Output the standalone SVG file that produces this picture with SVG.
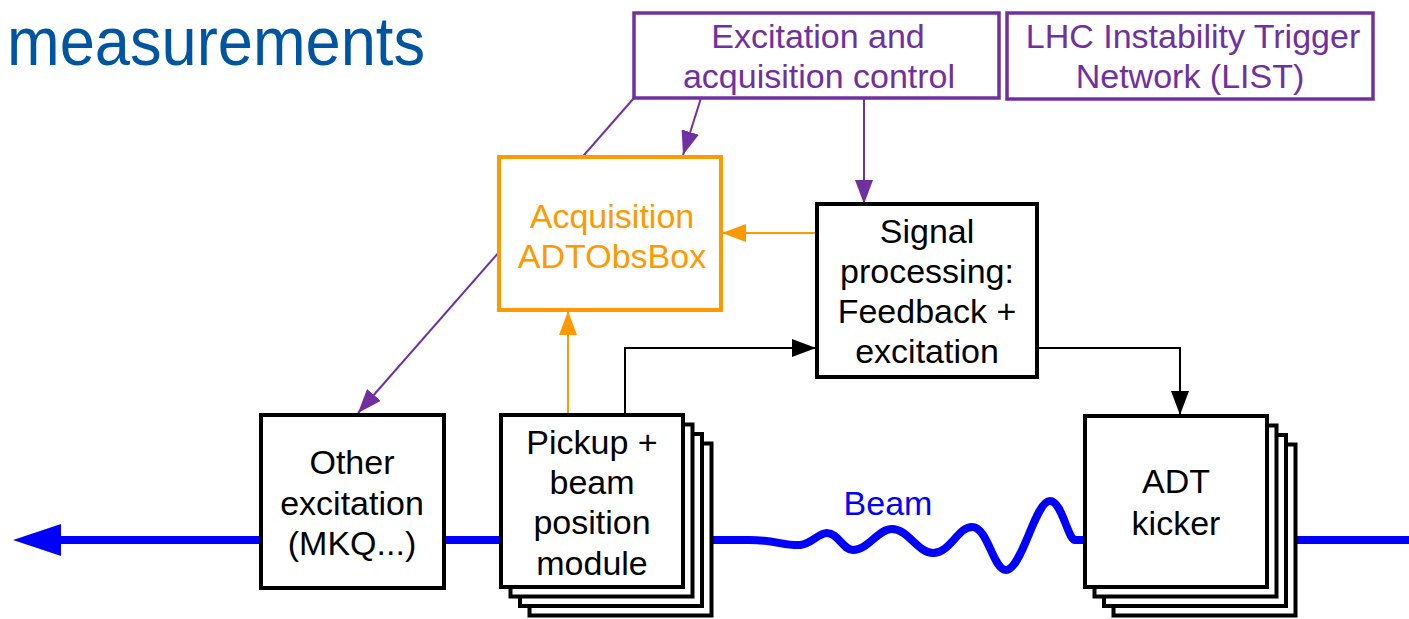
<svg xmlns="http://www.w3.org/2000/svg" width="1409" height="619" viewBox="0 0 1409 619">
  <style>
    .box { fill: #ffffff; stroke: #000000; stroke-width: 4; }
    .pbox { fill: #ffffff; stroke: #7030A0; stroke-width: 3.5; }
    .obox { fill: #ffffff; stroke: #FF9900; stroke-width: 4; }
    text { font-family: "Liberation Sans", Arial, sans-serif; font-size: 34px; text-anchor: middle; }
    .t-black { fill: #000000; }
    .t-purple { fill: #7030A0; }
    .t-orange { fill: #FF9900; }
    .t-blue { fill: #0000FF; }
    .line-p { fill: none; stroke: #7030A0; stroke-width: 2; }
    .line-o { fill: none; stroke: #FF9900; stroke-width: 2; }
    .line-k { fill: none; stroke: #000000; stroke-width: 2; }
    .beam { fill: none; stroke: #0000FF; stroke-width: 8; stroke-linejoin: round; }
  </style>
  <defs>
    <marker id="arr-p" markerUnits="userSpaceOnUse" markerWidth="24" markerHeight="18" refX="24" refY="9" orient="auto">
      <path d="M0,0 L24,9 L0,18 z" fill="#7030A0"/>
    </marker>
    <marker id="arr-o" markerUnits="userSpaceOnUse" markerWidth="24" markerHeight="18" refX="24" refY="9" orient="auto">
      <path d="M0,0 L24,9 L0,18 z" fill="#FF9900"/>
    </marker>
    <marker id="arr-k" markerUnits="userSpaceOnUse" markerWidth="24" markerHeight="18" refX="24" refY="9" orient="auto">
      <path d="M0,0 L24,9 L0,18 z" fill="#000000"/>
    </marker>
  </defs>

  <rect x="0" y="0" width="1409" height="619" fill="#ffffff"/>

  <!-- slide heading fragment -->
  <text x="7" y="65" style="font-size:68px; text-anchor:start; fill:#0055A0" textLength="418" lengthAdjust="spacingAndGlyphs">measurements</text>

  <!-- connectors (drawn under the boxes) -->
  <g id="connectors">
    <!-- beam with growing oscillation -->
    <path class="beam" d="M61,540 H750 C775,540 785,546 800,545 C812,544 818,533 827,533 C838,533 843,550 853,550 C868,550 878,529 892,529 C908,529 918,553 933,553 C950,553 958,527 972,527 C988,527 993,570 1006,570 C1022,570 1035,501 1050,501 C1062,501 1068,540 1075,540 H1409"/>
    <polygon points="13,540 61,524 61,556" fill="#0000FF"/>
    <text class="t-blue" x="888" y="515">Beam</text>

    <!-- control links -->
    <path class="line-p" d="M634,98 L358,413" marker-end="url(#arr-p)"/>
    <path class="line-p" d="M701,98 L683,155" marker-end="url(#arr-p)"/>
    <path class="line-p" d="M864,98 V204" marker-end="url(#arr-p)"/>

    <!-- acquisition feeds -->
    <path class="line-o" d="M817,233 H722" marker-end="url(#arr-o)"/>
    <path class="line-o" d="M568,415 V311" marker-end="url(#arr-o)"/>

    <!-- signal path -->
    <path class="line-k" d="M625,415 V348 H816" marker-end="url(#arr-k)"/>
    <path class="line-k" d="M1037,348 H1180 V415" marker-end="url(#arr-k)"/>
  </g>

  <g id="node-control">
    <rect class="pbox" x="634" y="13" width="365" height="85"/>
    <text class="t-purple" x="818" y="48">Excitation and</text>
    <text class="t-purple" x="819" y="88">acquisition control</text>
  </g>

  <g id="node-list">
    <rect class="pbox" x="1007" y="13" width="366" height="86"/>
    <text class="t-purple" x="1193" y="48">LHC Instability Trigger</text>
    <text class="t-purple" x="1190" y="88">Network (LIST)</text>
  </g>

  <g id="node-obsbox">
    <rect class="obox" x="499" y="157" width="222" height="153"/>
    <text class="t-orange" x="612" y="228">Acquisition</text>
    <text class="t-orange" x="612" y="268">ADTObsBox</text>
  </g>

  <g id="node-signal">
    <rect class="box" x="817" y="204" width="220" height="173"/>
    <text class="t-black" x="927" y="243">Signal</text>
    <text class="t-black" x="927" y="283">processing:</text>
    <text class="t-black" x="927" y="323">Feedback +</text>
    <text class="t-black" x="927" y="363">excitation</text>
  </g>

  <g id="node-other">
    <rect class="box" x="261" y="415" width="183" height="173"/>
    <text class="t-black" x="352" y="474">Other</text>
    <text class="t-black" x="352" y="515">excitation</text>
    <text class="t-black" x="352" y="555">(MKQ...)</text>
  </g>

  <g id="node-pickup">
    <rect class="box" x="529.5" y="443.5" width="182" height="172"/>
    <rect class="box" x="520" y="434" width="182" height="172"/>
    <rect class="box" x="510.5" y="424.5" width="182" height="172"/>
    <rect class="box" x="501" y="415" width="182" height="172"/>
    <text class="t-black" x="592" y="454">Pickup +</text>
    <text class="t-black" x="592" y="494">beam</text>
    <text class="t-black" x="592" y="534">position</text>
    <text class="t-black" x="592" y="575">module</text>
  </g>

  <g id="node-kicker">
    <rect class="box" x="1113.5" y="444.5" width="182" height="171"/>
    <rect class="box" x="1104" y="435" width="182" height="171"/>
    <rect class="box" x="1094.5" y="425.5" width="182" height="171"/>
    <rect class="box" x="1085" y="416" width="182" height="171"/>
    <text class="t-black" x="1176" y="493">ADT</text>
    <text class="t-black" x="1176" y="535">kicker</text>
  </g>
</svg>
